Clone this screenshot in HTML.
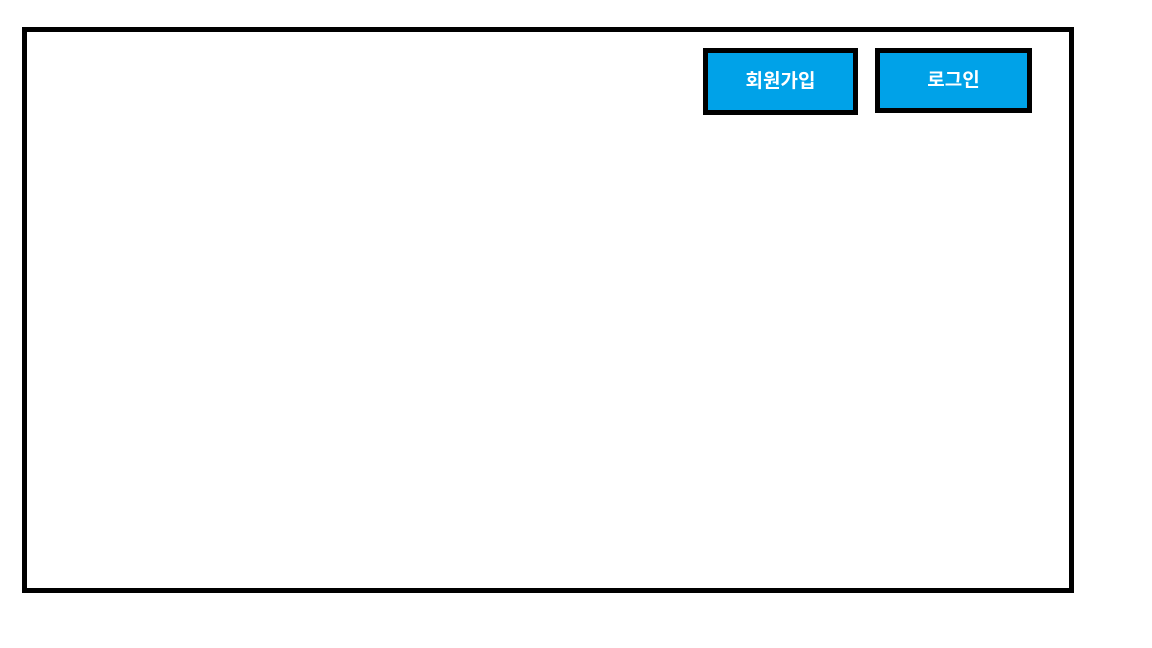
<!DOCTYPE html>
<html><head><meta charset="utf-8"><style>
body{margin:0;width:1152px;height:648px;background:#fff;position:relative;overflow:hidden;font-family:"Liberation Sans","Noto Sans CJK KR",sans-serif}
.frame{position:absolute;left:22px;top:27px;width:1042px;height:556px;border:5px solid #000}
.btn{position:absolute;box-sizing:border-box;border:5px solid #000;background:#00a2e8;color:#fff;font-weight:bold;font-size:19px;display:flex;align-items:center;justify-content:center;padding-bottom:4px}
</style></head><body>
<div class="frame"></div>
<div class="btn" style="left:703px;top:48px;width:155px;height:67px">회원가입</div>
<div class="btn" style="left:875px;top:48px;width:157px;height:65px">로그인</div>
</body></html>
